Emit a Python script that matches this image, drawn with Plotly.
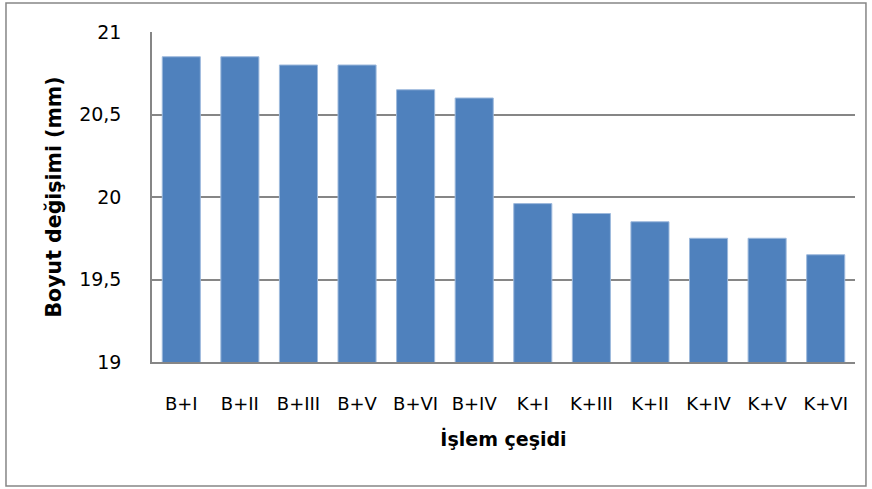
import plotly.graph_objects as go

categories = ["B+I", "B+II", "B+III", "B+V", "B+VI", "B+IV",
              "K+I", "K+III", "K+II", "K+IV", "K+V", "K+VI"]
values = [20.85, 20.85, 20.8, 20.8, 20.65, 20.6,
          19.96, 19.9, 19.85, 19.75, 19.75, 19.65]
y_ticks = [19, 19.5, 20, 20.5, 21]
y_tick_labels = ["19", "19,5", "20", "20,5", "21"]

grid_color = "#868686"

fig = go.Figure()
fig.add_trace(go.Bar(
    x=categories, y=values,
    marker=dict(color="#4F81BD", line=dict(color="#9DB9DC", width=1)),
))

fig.update_layout(
    width=872, height=489,
    margin=dict(l=152, r=17, t=32, b=127),
    paper_bgcolor="white", plot_bgcolor="white",
    bargap=0.35,
    showlegend=False,
    font=dict(family="DejaVu Sans, sans-serif", size=18, color="black"),
)

fig.update_xaxes(
    showgrid=False,
    showline=True, linecolor=grid_color, linewidth=2,
    ticks="outside", ticklen=0, tickcolor="white",
    ticklabelstandoff=24,
    title=dict(text="<b>İşlem çeşidi</b>", font=dict(size=19), standoff=20),
)

fig.update_yaxes(
    range=[19, 21],
    tickvals=y_ticks, ticktext=y_tick_labels,
    tickfont=dict(size=19),
    showgrid=True, gridcolor=grid_color, gridwidth=1.5,
    showline=True, linecolor=grid_color, linewidth=1.5,
    zeroline=False,
    ticks="outside", ticklen=0, tickcolor="white",
    ticklabelstandoff=25,
    title=dict(text="<b>Boyut değişimi (mm)</b>", font=dict(size=20.5), standoff=12),
)

# chart outer border
fig.add_shape(type="rect", xref="paper", yref="paper",
              x0=-0.2077, x1=1.0156, y0=-0.3758, y1=1.0879,
              line=dict(color=grid_color, width=1.5), layer="below")

fig.write_html("out.html", config={"displayModeBar": False},
               post_script="document.body.style.margin='0';")
